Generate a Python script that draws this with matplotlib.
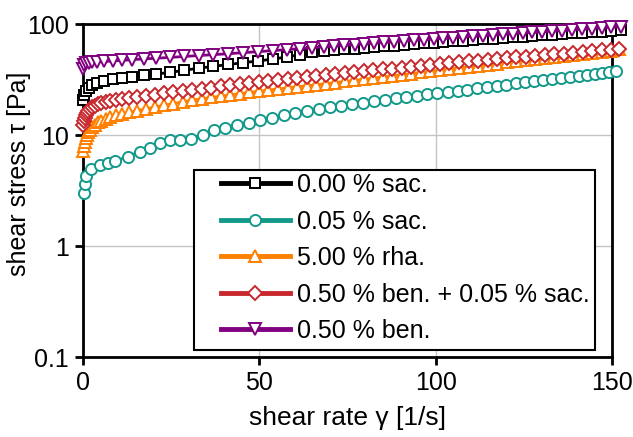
import matplotlib
matplotlib.use('Agg')
from matplotlib import pyplot as plt
from matplotlib.patches import Rectangle
from matplotlib.ticker import FixedLocator, NullLocator

plt.rcParams['font.family'] = ['Liberation Sans', 'DejaVu Sans']

# ---- data ----
labels = ['0.00 % sac.', '0.05 % sac.', '5.00 % rha.',
          '0.50 % ben. + 0.05 % sac.', '0.50 % ben.']

# shear rates, sparse grid (0.00 % sac. and 0.50 % ben.)
rate_b = [0.1, 0.4, 0.9, 1.6, 2.6, 4.0, 6.0, 8.4, 11.0, 14.0,
          17.2, 20.8, 24.6, 28.6, 32.8, 37.0, 41.2, 45.4, 49.6, 53.8,
          57.8, 61.6, 65.0, 68.2, 71.2, 74.1, 77.0, 79.8, 82.6, 85.4,
          88.2, 91.0, 93.8, 96.6, 99.4, 102.2, 105.0, 107.8, 110.6, 113.4,
          116.2, 119.0, 121.8, 124.6, 127.4, 130.2, 133.0, 135.8, 138.6, 141.4,
          144.2, 147.0, 149.8, 152.4]
# shear rates, dense grid (5.00 % rha. and 0.50 % ben. + 0.05 % sac.)
rate_a = [0.1, 0.3, 0.5, 0.8, 1.1, 1.5, 2.0, 2.6, 3.3, 4.2,
          5.2, 6.4, 7.8, 9.4, 11.2, 13.2, 15.4, 17.8, 20.3, 22.9,
          25.6, 28.3, 31.0, 33.7, 36.4, 39.1, 41.8, 44.5, 47.2, 49.9,
          52.6, 55.3, 58.0, 60.7, 63.4, 66.1, 68.8, 71.5, 74.2, 76.9,
          79.6, 82.3, 85.0, 87.7, 90.4, 93.1, 95.8, 98.5, 101.2, 103.9,
          106.6, 109.3, 112.0, 114.7, 117.4, 120.1, 122.8, 125.5, 128.2, 130.9,
          133.6, 136.3, 139.0, 141.7, 144.4, 147.1, 149.8, 152.0]
# shear rates for 0.05 % sac.
rate_g = [0.4, 0.6, 1.0, 2.4, 4.8, 7.1, 9.1, 12.7, 16.1,
          18.9, 21.8, 24.6, 27.6, 30.7, 33.9, 37.1, 40.4, 43.7, 47.0,
          50.3, 53.6, 56.9, 60.2, 63.5, 66.8, 70.0, 73.2, 76.4, 79.5,
          82.6, 85.7, 88.7, 91.7, 94.7, 97.6, 100.5, 103.4, 106.2, 109.0,
          111.8, 114.6, 117.3, 120.0, 122.7, 125.3, 127.9, 130.5, 133.1, 135.6,
          138.1, 140.6, 143.0, 145.1, 147.2, 149.2, 151.2]

tau_sac0 = [20.5, 23.0, 25.0, 26.8, 28.0, 29.3, 30.6, 31.8, 32.8, 33.6,
            34.5, 35.5, 36.6, 38.3, 40.0, 41.6, 43.2, 44.8, 46.5, 48.3,
            50.5, 53.0, 55.5, 57.0, 58.0, 59.0, 60.0, 61.0, 62.0, 63.0,
            64.0, 65.0, 66.0, 67.0, 68.0, 69.0, 70.0, 71.0, 72.0, 73.0,
            74.0, 75.0, 76.0, 77.0, 78.0, 79.0, 80.1, 81.2, 82.3, 83.4,
            84.5, 85.6, 86.8, 88.0]
tau_sac005 = [3.0, 3.6, 4.3, 4.9, 5.35, 5.6, 5.8, 6.4, 7.1,
              7.6, 8.4, 9.1, 9.0, 9.3, 10.1, 11.0, 11.5, 12.4, 12.8,
              13.6, 14.3, 15.1, 15.8, 16.5, 17.2, 17.8, 18.4, 19.0, 19.6,
              20.2, 20.8, 21.4, 22.0, 22.6, 23.2, 23.8, 24.4, 25.0, 25.7,
              26.4, 27.1, 27.8, 28.5, 29.2, 29.9, 30.6, 31.3, 32.0, 32.7,
              33.4, 34.1, 34.8, 35.5, 36.2, 36.9, 37.6]
tau_rha = [7.2, 8.0, 8.7, 9.4, 10.0, 10.6, 11.2, 11.8, 12.4, 13.0,
           13.5, 14.0, 14.5, 15.0, 15.5, 16.0, 16.6, 17.2, 17.8, 18.5,
           19.2, 19.9, 20.6, 21.2, 21.8, 22.4, 23.0, 23.6, 24.2, 24.8,
           25.4, 26.0, 26.6, 27.2, 27.8, 28.4, 29.0, 29.7, 30.4, 31.1,
           31.8, 32.6, 33.4, 34.2, 35.0, 35.8, 36.7, 37.6, 38.5, 39.4,
           40.3, 41.2, 42.1, 43.1, 44.1, 45.1, 46.1, 47.1, 48.2, 49.3,
           50.4, 51.5, 52.7, 53.9, 55.1, 56.4, 57.7, 59.0]
tau_ben_sac = [12.3, 13.4, 14.2, 15.0, 15.7, 16.4, 17.1, 17.8, 18.4, 19.0,
               19.5, 19.9, 20.3, 20.7, 21.1, 21.6, 22.1, 22.6, 23.1, 23.7,
               24.3, 24.9, 25.5, 26.1, 26.8, 27.5, 28.2, 28.9, 29.6, 30.3,
               30.9, 31.5, 32.0, 32.7, 33.4, 34.1, 34.8, 35.5, 36.2, 36.9,
               37.6, 38.3, 39.0, 39.7, 40.4, 41.2, 42.0, 42.8, 43.6, 44.4,
               45.2, 46.0, 46.8, 47.6, 48.4, 49.2, 50.0, 50.8, 51.6, 52.4,
               53.3, 54.2, 55.1, 56.0, 56.9, 57.8, 58.7, 59.5]
tau_ben = [39.0, 43.0, 44.5, 45.0, 45.3, 45.6, 46.0, 46.5, 47.0, 47.8,
           48.5, 49.2, 50.0, 51.0, 52.0, 53.0, 54.0, 55.2, 56.4, 57.6,
           58.8, 60.0, 61.2, 62.2, 63.2, 64.2, 65.2, 66.2, 67.2, 68.2,
           69.2, 70.2, 71.2, 72.2, 73.2, 74.2, 75.2, 76.3, 77.4, 78.5,
           79.6, 80.7, 81.8, 82.9, 84.0, 85.1, 86.2, 87.4, 88.6, 89.8,
           91.0, 92.2, 93.4, 94.6]

x_ticks = [0, 50, 100, 150]
y_ticks = [0.1, 1, 10, 100]
y_tick_labels = ['0.1', '1', '10', '100']

# ---- plot ----
fig = plt.figure(figsize=(6.33, 4.37), dpi=100)
ax = fig.add_axes([0.131, 0.183, 0.836, 0.762])

series = [
    (rate_b, tau_sac0, '#000000', 's', 7.5),
    (rate_g, tau_sac005, '#13998a', 'o', 8),
    (rate_a, tau_rha, '#ff8000', '^', 8),
    (rate_a, tau_ben_sac, '#c8282d', 'D', 7),
    (rate_b, tau_ben, '#800080', 'v', 8),
]
for (x, y, c, m, ms), lab in zip(series, labels):
    ax.plot(x, y, color=c, lw=2, marker=m, ms=ms, mfc='white', mec=c,
            mew=1.4, clip_on=False, zorder=3, label=lab)

ax.set_yscale('log')
ax.set_xlim(0, 150)
ax.set_ylim(0.1, 100)
ax.xaxis.set_major_locator(FixedLocator(x_ticks))
ax.yaxis.set_major_locator(FixedLocator(y_ticks))
ax.yaxis.set_minor_locator(NullLocator())
ax.set_yticklabels(y_tick_labels)
ax.grid(True, color='#c4c4c4', lw=1)
ax.set_axisbelow(True)

for s in ax.spines.values():
    s.set_linewidth(2)
ax.tick_params(axis='both', direction='out', length=6, width=2, labelsize=18, pad=4)

ax.set_xlabel('shear rate γ [1/s]', fontsize=19, labelpad=8)
ax.set_ylabel('shear stress τ [Pa]', fontsize=18)
ax.yaxis.set_label_coords(-0.098, 0.55)

# legend box (frame drawn separately, wider on the left like the original)
ax.add_patch(Rectangle((0.2105, 0.021), 0.757, 0.541, transform=ax.transAxes,
                       facecolor='white', edgecolor='black', lw=1.5, zorder=4))
leg = ax.legend(loc='center left', bbox_to_anchor=(0.261, 0.297), fontsize=18,
                handlelength=2.75, labelspacing=0.5, borderpad=0,
                borderaxespad=0, handletextpad=0.3, frameon=False)
leg.set_zorder(5)
for h in leg.get_lines():
    h.set_linewidth(3.5)

plt.savefig('out.png', dpi=100)
